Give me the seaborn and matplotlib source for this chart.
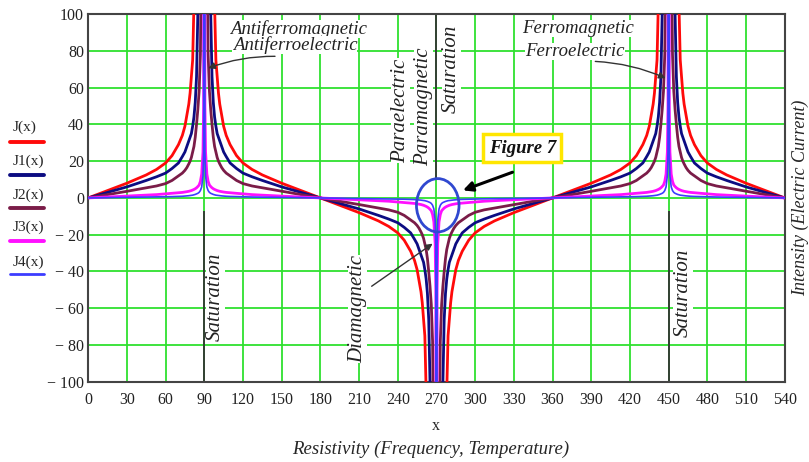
import numpy as np
import pandas as pd
import seaborn as sns
import matplotlib.pyplot as plt
from matplotlib.lines import Line2D
from matplotlib.patches import Ellipse

# 曲线读数: 距极点的距离 -> 数值 (从图上读取, 极点处取一个超出坐标范围的值)
dist = [90, 75, 60, 45, 37, 30, 25, 20, 17, 15, 13.5, 12, 11, 10, 9, 8, 7, 6, 5, 4, 3, 2, 1, 0.5, 0]
j_vals = [0, 4, 8, 12.5, 15.5, 19, 23, 29, 34, 39, 45, 51, 57, 66, 75, 105, 140,
          200, 250, 300, 400, 500, 700, 900, 1000]
j1_vals = [0, 3, 6, 9.5, 11.5, 13.5, 16, 19, 22.5, 25, 28, 31, 33, 35, 39, 44, 52,
           66, 100, 200, 300, 400, 600, 800, 1000]
j2_vals = [0, 1.8, 3.6, 5.5, 6.5, 7.8, 9.5, 12, 13.5, 15, 16.5, 18.5, 20, 22, 25, 28, 33,
           40, 48, 58, 78, 150, 300, 500, 1000]
j3_vals = [0, 0.5, 1, 1.5, 1.8, 2.2, 2.5, 2.8, 3, 3.2, 3.4, 3.6, 3.8, 4, 4.3, 4.6, 5,
           5.5, 6.2, 7, 9, 13, 25, 50, 1000]
j4_vals = [0, 0.15, 0.3, 0.4, 0.5, 0.6, 0.7, 0.8, 0.9, 1, 1.1, 1.2, 1.3, 1.4, 1.5, 1.7, 1.9,
           2.2, 2.5, 3, 4, 6, 12, 25, 1000]

# 极点位置和方向
poles = [90, 270, 450]
pole_sign = [1, -1, 1]

x_ticks = list(range(0, 541, 30))
y_ticks = list(range(-100, 101, 20))
y_labels = [str(v) if v >= 0 else '\u2212 ' + str(-v) for v in y_ticks]

names = ['J(x)', 'J1(x)', 'J2(x)', 'J3(x)', 'J4(x)']
colors = ['#ff0a0a', '#0c0c82', '#7a1c48', '#ff10ff', '#3c3cff']
widths = [2.0, 2.0, 2.0, 2.0, 1.2]
profiles = [j_vals, j1_vals, j2_vals, j3_vals, j4_vals]


def build(profile):
    xs, ys = [], []
    for k, pole in enumerate(poles):
        s = pole_sign[k]
        for d, v in zip(dist, profile):
            if k > 0 and d == dist[0]:
                continue
            xs.append(pole - d)
            ys.append(s * v)
        for d, v in zip(dist[-2::-1], profile[-2::-1]):
            xs.append(pole + d)
            ys.append(s * v)
    return pd.DataFrame({'x': xs, 'y': ys})


sns.set_theme(style='white')
plt.rcParams['font.family'] = ['Liberation Serif', 'DejaVu Serif']

fig = plt.figure(figsize=(8.09, 4.62), dpi=100)
ax = fig.add_axes([0.109, 0.1736, 0.861, 0.796])

for prof, c, lw in zip(profiles, colors, widths):
    df = build(prof)
    sns.lineplot(data=df, x='x', y='y', color=c, lw=lw, ax=ax,
                 estimator=None, sort=False, zorder=3)

ax.set_xlim(0, 540)
ax.set_ylim(-100, 100)
ax.set_xticks(x_ticks)
ax.set_yticks(y_ticks)
ax.set_yticklabels(y_labels)
ax.tick_params(length=0, labelsize=11.5, colors='#222222')
ax.tick_params(axis='x', pad=7)
ax.tick_params(axis='y', pad=3)
ax.set_xlabel('')
ax.set_ylabel('')
ax.grid(True, color='#2fe02f', lw=1.3)
ax.set_axisbelow(True)
for sp in ax.spines.values():
    sp.set_color('#444444')
    sp.set_linewidth(1.5)

# 饱和线
ax.vlines([90, 450], -100, -7, color='#333333', lw=1.3, zorder=2)
ax.vlines(270, 10.4, 100, color='#333333', lw=1.3, zorder=2)

# 文字注释
tkw = dict(style='italic', fontsize=13.5, color='#222222', zorder=1.5,
           bbox=dict(facecolor='white', edgecolor='none', pad=0.2))
rkw = dict(tkw, fontsize=15, rotation=90, ha='center', va='center')
ax.text(110, 92, 'Antiferromagnetic', ha='left', va='center', **tkw)
ax.text(112, 83, 'Antiferroelectric', ha='left', va='center', **tkw)
ax.text(336.6, 92, 'Ferromagnetic', ha='left', va='center', **tkw)
ax.text(339, 79.6, 'Ferroelectric', ha='left', va='center', **tkw)
ax.text(241.9, 47.6, 'Paraelectric', **rkw)
ax.text(260, 49.8, 'Paramagnetic', **rkw)
ax.text(281.6, 70, 'Saturation', **rkw)
ax.text(98.8, -54, 'Saturation', **rkw)
ax.text(461, -51.6, 'Saturation', **rkw)
ax.text(208.7, -60.3, 'Diamagnetic', **rkw)

akw = dict(arrowstyle='-|>', color='#333333', lw=1.0, mutation_scale=10)
ax.annotate('', xy=(91, 70), xytext=(147, 77), zorder=4,
            arrowprops=dict(connectionstyle='arc3,rad=0.1', **akw))
ax.annotate('', xy=(449.6, 64.5), xytext=(391, 74.3), zorder=4,
            arrowprops=dict(connectionstyle='arc3,rad=-0.1', **akw))
ax.annotate('', xy=(268.8, -24), xytext=(218, -48.9), zorder=4,
            arrowprops=dict(**akw))

# Figure 7 标记
ax.add_patch(Ellipse((271, -4), 33, 29, fill=False, edgecolor='#3048d0', lw=2, zorder=5))
ax.text(336.5, 27, 'Figure 7', ha='center', va='center', style='italic',
        weight='bold', fontsize=13.5, color='#111111', zorder=6,
        bbox=dict(facecolor='white', edgecolor='#ffe600', lw=2.5, boxstyle='square,pad=0.3'))
ax.annotate('', xy=(288.5, 3.6), xytext=(331, 14.5), zorder=6,
            arrowprops=dict(arrowstyle='-|>', color='black', lw=2.2, mutation_scale=14))

# 坐标轴标题
fig.text(436 / 809, 1 - 426 / 462, 'x', ha='center', va='center', fontsize=11.5)
fig.text(431 / 809, 1 - 449 / 462, 'Resistivity (Frequency, Temperature)',
         ha='center', va='center', style='italic', fontsize=13.5)
fig.text(800 / 809, 1 - 198 / 462, 'Intensity (Electric Current)', rotation=90,
         ha='center', va='center', style='italic', fontsize=13)

# 左侧图例
leg_text_y = [127, 161, 195, 227, 262]
leg_line_y = [142, 175, 208, 241, 274]
for n, c, lw, ty, ly in zip(names, colors, widths, leg_text_y, leg_line_y):
    fig.text(13 / 809, 1 - ty / 462, n, ha='left', va='center', fontsize=11)
    fig.add_artist(Line2D([10 / 809, 44 / 809], [1 - ly / 462, 1 - ly / 462],
                          color=c, lw=lw + 0.8))

fig.savefig('out.png', dpi=100)
